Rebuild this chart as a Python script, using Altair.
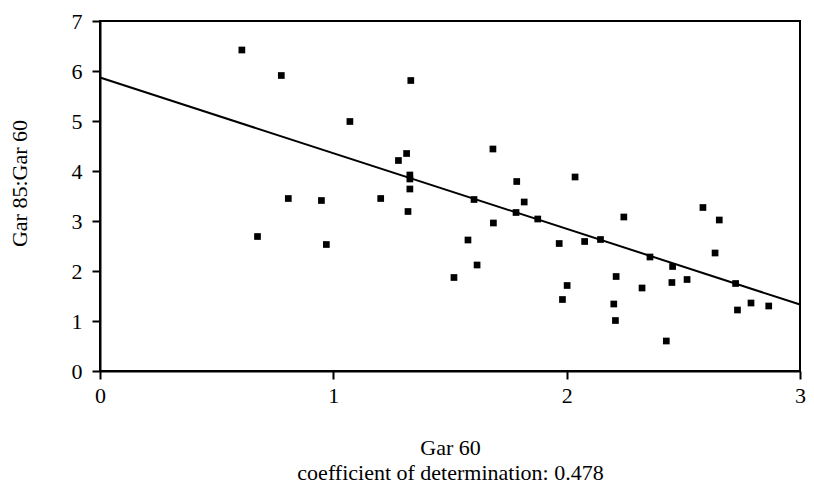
import altair as alt
import pandas as pd

# Scatter data: Gar 60 (x) vs Gar 85:Gar 60 (y)
gar60 = [0.608, 0.777, 1.071, 1.332, 0.807, 0.949, 0.675, 0.970, 1.314, 1.279,
         1.328, 1.328, 1.328, 1.203, 1.320, 1.684, 1.603, 1.786, 1.818, 1.783,
         1.686, 1.876, 2.036, 1.968, 2.077, 1.577, 1.616, 1.517, 2.002, 1.982,
         2.145, 2.245, 2.584, 2.654, 2.636, 2.357, 2.454, 2.212, 2.323, 2.451,
         2.516, 2.724, 2.202, 2.209, 2.427, 2.732, 2.790, 2.866]
ratio = [6.42, 5.91, 4.99, 5.81, 3.45, 3.41, 2.69, 2.53, 4.35, 4.21,
         3.92, 3.84, 3.64, 3.45, 3.19, 4.44, 3.43, 3.79, 3.38, 3.17,
         2.96, 3.04, 3.88, 2.55, 2.59, 2.62, 2.12, 1.87, 1.71, 1.43,
         2.63, 3.08, 3.27, 3.02, 2.36, 2.28, 2.09, 1.89, 1.66, 1.77,
         1.83, 1.75, 1.34, 1.01, 0.60, 1.22, 1.36, 1.30]

# Fitted regression line end points
fit_x = [0.0, 3.0]
fit_y = [5.87, 1.33]

x_ticks = [0, 1, 2, 3]
y_ticks = [0, 1, 2, 3, 4, 5, 6, 7]

pts = pd.DataFrame({"x": gar60, "y": ratio})
fit = pd.DataFrame({"x": fit_x, "y": fit_y})

FONT = "Liberation Serif"

x_enc = alt.X("x:Q", scale=alt.Scale(domain=[0, 3], nice=False),
              axis=alt.Axis(values=x_ticks, format="d", grid=False,
                            title=["Gar 60", "coefficient of determination: 0.478"],
                            titleLineHeight=25, titlePadding=31,
                            labelPadding=6, tickSize=8, labelFlush=False))
y_enc = alt.Y("y:Q", scale=alt.Scale(domain=[0, 7], nice=False),
              axis=alt.Axis(values=y_ticks, format="d", grid=False,
                            title="Gar 85:Gar 60", titlePadding=40,
                            titleY=162, labelPadding=10, tickSize=8))

points = alt.Chart(pts).mark_square(size=45, color="black", opacity=1).encode(
    x=x_enc, y=y_enc)

line = alt.Chart(fit).mark_line(color="black", strokeWidth=2).encode(
    x="x:Q", y="y:Q")

chart = (line + points).properties(
    width=700, height=350,
    autosize=alt.AutoSizeParams(type="none"),
    padding={"left": 92, "top": 13, "right": 6, "bottom": 112},
).configure_view(
    stroke="black", strokeWidth=2
).configure_axis(
    domainColor="black", domainWidth=2, tickColor="black", tickWidth=2,
    labelFont=FONT, titleFont=FONT, labelFontSize=22, titleFontSize=22,
    labelColor="black", titleColor="black", titleFontWeight="normal",
)

chart.save("out.html", embed_options={"renderer": "svg", "actions": False})
